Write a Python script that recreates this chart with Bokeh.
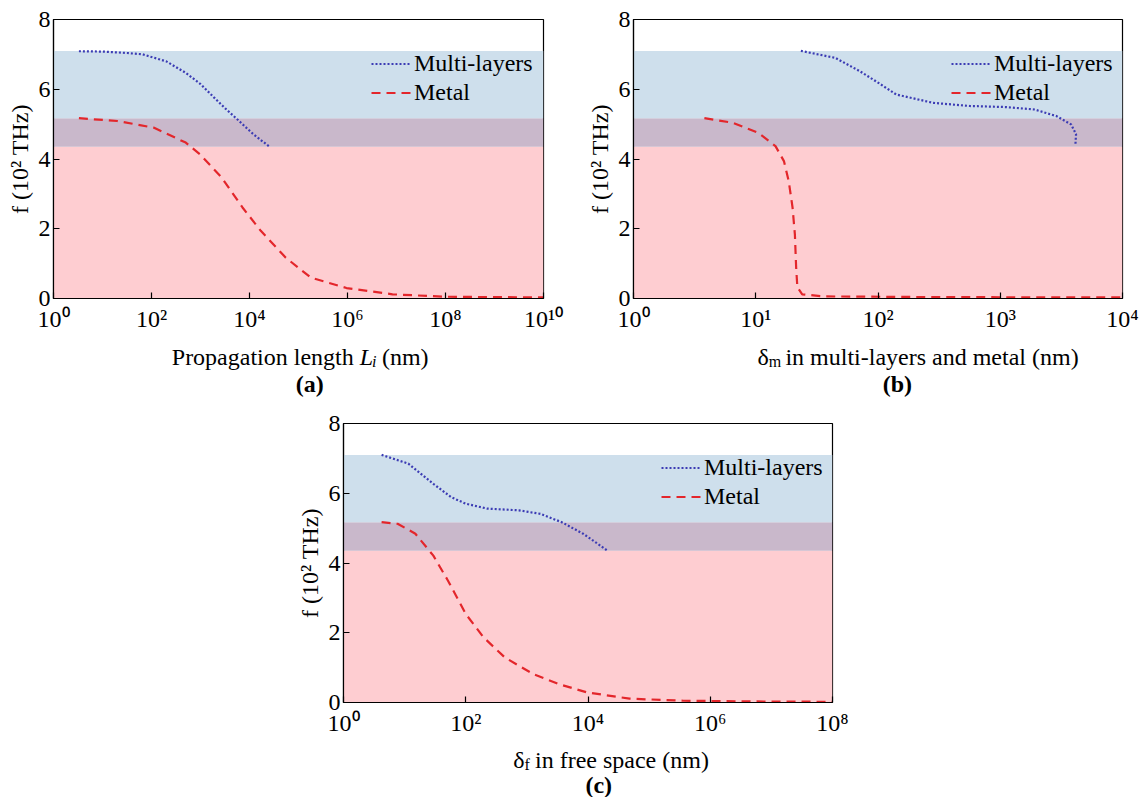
import math
from bokeh.plotting import figure
from bokeh.models import Range1d, FixedTicker, BoxAnnotation, Label, Legend, LegendItem, Spacer
from bokeh.layouts import column, row
from bokeh.embed import file_html
from bokeh.resources import INLINE

FONT = "Liberation Serif"

# ---------------- data ----------------
band_lower = [0.0, 4.35, 5.17]
band_upper = [4.35, 5.17, 7.1]
band_colors = ["#fecdd1", "#c9b8cb", "#cedfec"]

y_ticks = [0, 2, 4, 6, 8]
y_title = "f (10² THz)"

# panel (a): propagation length
a_x_ticks = [1, 1e2, 1e4, 1e6, 1e8, 1e10]
a_x_labels = ["10⁰", "10²", "10⁴", "10⁶", "10⁸", "10¹⁰"]
a_ml_x = [3.3, 10, 32, 66, 200, 500, 1000, 1900, 3200, 5600, 12000, 25700]
a_ml_y = [7.09, 7.08, 7.04, 7.0, 6.8, 6.47, 6.15, 5.76, 5.45, 5.14, 4.71, 4.35]
a_me_x = [3.3, 20, 110, 500, 980, 2700, 7200, 17000, 55000, 178000, 955000, 8.3e6, 1e8, 1e10]
a_me_y = [5.17, 5.09, 4.90, 4.47, 4.13, 3.47, 2.61, 1.94, 1.17, 0.60, 0.30, 0.12, 0.05, 0.03]

# panel (b): delta_m
b_x_ticks = [1, 10, 100, 1e3, 1e4]
b_x_labels = ["10⁰", "10¹", "10²", "10³", "10⁴"]
b_ml_x = [23.4, 44.7, 70.8, 100, 141, 282, 562, 1096, 1905, 2884, 3802, 4169, 4121]
b_ml_y = [7.1, 6.9, 6.52, 6.19, 5.85, 5.61, 5.52, 5.49, 5.42, 5.23, 4.99, 4.71, 4.42]
b_me_x = [3.8, 6.5, 10.5, 14.5, 17, 18.6, 20, 20.9, 21.4, 21.9, 24, 36, 282, 1e4]
b_me_y = [5.17, 5.04, 4.75, 4.37, 3.94, 3.37, 2.61, 1.84, 0.89, 0.32, 0.12, 0.06, 0.04, 0.03]

# panel (c): delta_f
c_x_ticks = [1, 1e2, 1e4, 1e6, 1e8]
c_x_labels = ["10⁰", "10²", "10⁴", "10⁶", "10⁸"]
c_ml_x = [4.2, 11.5, 29.5, 57.5, 100, 224, 741, 1660, 3715, 8318, 14454, 20893]
c_ml_y = [7.1, 6.85, 6.27, 5.89, 5.70, 5.56, 5.51, 5.41, 5.17, 4.84, 4.55, 4.35]
c_me_x = [4.2, 7.8, 15, 29.5, 51, 100, 195, 437, 1288, 3311, 9550, 47863, 363078, 5.4e6, 1e8]
c_me_y = [5.17, 5.12, 4.84, 4.21, 3.50, 2.54, 1.87, 1.29, 0.81, 0.53, 0.29, 0.11, 0.05, 0.03, 0.02]

series_names = ["Multi-layers", "Metal"]
ML_COLOR = "#3c3cb4"
ME_COLOR = "#e3262b"

# ---------------- text metrics (Times-compatible) ----------------
REG = {' ': 250, '(': 333, ')': 333, '-': 333, '0': 500, '1': 500, '2': 500,
       'H': 722, 'L': 611, 'M': 889, 'P': 556, 'T': 611, 'a': 444, 'c': 444,
       'd': 500, 'e': 444, 'f': 333, 'g': 500, 'h': 500, 'i': 278, 'l': 278,
       'm': 778, 'n': 500, 'o': 500, 'p': 500, 'r': 333, 's': 389, 't': 278,
       'u': 500, 'y': 500, 'z': 444, 'δ': 500}
ITA = {'L': 556, 'i': 278, 'f': 278, 'm': 722, ' ': 250}


def tw(s, italic, size):
    table = ITA if italic else REG
    return sum(table.get(ch, 500) for ch in s) * size / 1000.0


def compose(p, pieces, center, base, gap=1.0):
    total = sum(tw(t, it, sz) for t, it, sz, _ in pieces) + gap * (len(pieces) - 1)
    pos = center - total / 2.0
    for k, (text, italic, size, shift) in enumerate(pieces):
        lead = len(text) - len(text.lstrip(' '))
        stripped = text.strip(' ')
        if k == 0 and len(stripped) > 3:
            anchor = pos + tw(text.rstrip(' '), italic, size)
            align = "right"
        else:
            anchor = pos + tw(' ' * lead, italic, size)
            align = "left"
        p.add_layout(Label(x=anchor, y=base + shift, text=stripped,
                           text_font=FONT, text_font_size=f"{size}px",
                           text_font_style="italic" if italic else "normal",
                           text_align=align, text_baseline="alphabetic",
                           text_color="black"))
        pos += tw(text, italic, size) + gap


def helper(w, h):
    f = figure(width=w, height=h, x_range=Range1d(0, w), y_range=Range1d(0, h),
               output_backend="svg", toolbar_location=None, title=None,
               x_axis_location=None, y_axis_location=None,
               min_border=0, min_border_left=0, min_border_right=0,
               min_border_top=0, min_border_bottom=0, outline_line_color=None,
               background_fill_color="white", border_fill_color="white")
    f.xgrid.visible = False
    f.ygrid.visible = False
    return f


def panel(xmax, xticks, xlabels, ml_x, ml_y, me_x, me_y, w, h, bl, br, bt, bb):
    p = figure(width=w, height=h, x_axis_type="log", x_range=Range1d(1, xmax),
               y_range=Range1d(0, 8), output_backend="svg", toolbar_location=None,
               title=None, min_border_left=bl, min_border_right=br, min_border_top=bt,
               min_border_bottom=bb, background_fill_color="white")
    fh = h - bt - bb
    for lo, hi, c in zip(band_lower, band_upper, band_colors):
        p.add_layout(BoxAnnotation(bottom=lo, top=hi, fill_color=c, fill_alpha=1.0,
                                   line_color=None, level="underlay"))
    r1 = p.line(ml_x, ml_y, line_color=ML_COLOR, line_width=2.2, line_dash="2 2")
    r2 = p.line(me_x, me_y, line_color=ME_COLOR, line_width=2.2, line_dash="9 6")

    p.xaxis.ticker = FixedTicker(ticks=xticks)
    p.xaxis.major_label_overrides = {float(k): v for k, v in zip(xticks, xlabels)}
    p.yaxis.ticker = FixedTicker(ticks=y_ticks)
    for ax in p.axis:
        ax.major_label_text_font = FONT
        ax.major_label_text_font_size = "24px"
        ax.major_label_text_color = "black"
        ax.major_tick_in = 6
        ax.major_tick_out = 0
        ax.minor_tick_in = 0
        ax.minor_tick_out = 0
        ax.axis_line_color = "black"
        ax.axis_line_width = 1.2
        ax.major_tick_line_color = "black"
        ax.major_tick_line_width = 1.2
    p.xaxis.major_label_standoff = 7
    p.yaxis.major_label_standoff = 3
    p.yaxis.axis_label = y_title
    p.yaxis.axis_label_text_font = FONT
    p.yaxis.axis_label_text_font_size = "24px"
    p.yaxis.axis_label_text_font_style = "normal"
    p.yaxis.axis_label_text_color = "black"
    p.yaxis.axis_label_standoff = 3
    p.grid.visible = False
    p.outline_line_color = "black"
    p.outline_line_width = 1.2
    p.outline_line_alpha = 1.0

    legend = Legend(items=[LegendItem(label=series_names[0], renderers=[r1]),
                           LegendItem(label=series_names[1], renderers=[r2])],
                    location=(318, fh - 30 - 58), background_fill_alpha=0,
                    border_line_color=None, glyph_width=40, glyph_height=29,
                    label_height=29, spacing=0, padding=0, margin=0,
                    label_standoff=3, label_text_font=FONT,
                    label_text_font_size="24px", label_text_color="black")
    p.add_layout(legend)
    return p


def xtitle_fig(w, h, center, base, pieces, tag, tag_base):
    f = helper(w, h)
    compose(f, pieces, center, base)
    f.add_layout(Label(x=center, y=tag_base, text=tag, text_font=FONT,
                       text_font_size="24px", text_font_style="bold",
                       text_align="center", text_baseline="alphabetic",
                       text_color="black"))
    return f


# panel (a)
pa = panel(1e10, a_x_ticks, a_x_labels, a_ml_x, a_ml_y, a_me_x, a_me_y,
           570, 338, 53, 27, 19, 40)
ta = xtitle_fig(570, 62, 298, 44,
                [("Propagation length ", False, 24, 0), ("L", True, 24, 0),
                 ("i", True, 16, -5), (" (nm)", False, 24, 0)], "(a)", 17)

# panel (b)
pb = panel(1e4, b_x_ticks, b_x_labels, b_ml_x, b_ml_y, b_me_x, b_me_y,
           570, 338, 63, 18, 19, 40)
tb = xtitle_fig(570, 62, 307.5, 44,
                [("δ", False, 24, 0), ("m", False, 16, -5),
                 (" in multi-layers and metal (nm)", False, 24, 0)], "(b)", 17)

# panel (c)
pc = panel(1e8, c_x_ticks, c_x_labels, c_ml_x, c_ml_y, c_me_x, c_me_y,
           570, 342, 53, 28, 23, 40)
tc = xtitle_fig(570, 55, 297.5, 38,
                [("δ", False, 24, 0), ("f", False, 16, -5),
                 (" in free space (nm)", False, 24, 0)], "(c)", 13)

row1 = row(column(pa, ta), column(pb, tb))
row2 = row(Spacer(width=290, height=397), column(pc, tc))
layout = column(row1, row2)

open("out.html", "w").write(file_html(layout, INLINE))
